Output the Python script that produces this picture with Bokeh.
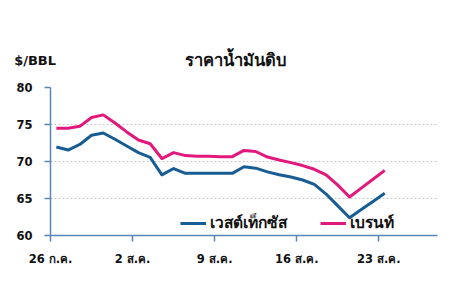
import numpy as np
from bokeh.plotting import figure
from bokeh.models import Range1d, FixedTicker, Label, Legend, LegendItem
from bokeh.embed import file_html
from bokeh.resources import INLINE

# Data (daily, days counted from 26 Jul)
tick_days = [0, 7, 14, 21, 28]
tick_labels = ["26 ก.ค.", "2 ส.ค.", "9 ส.ค.", "16 ส.ค.", "23 ส.ค."]

wti = [71.95, 71.55, 72.3, 73.55, 73.85, 73.0, 72.1, 71.2, 70.55, 68.2,
       69.05, 68.4, 68.4, 68.4, 68.4, 68.4, 69.3, 69.1, 68.6, 68.2,
       67.9, 67.5, 66.9, 65.6, 64.0, 62.4, 63.5, 64.6, 65.7]
brent = [74.5, 74.5, 74.75, 75.95, 76.3, 75.2, 74.0, 72.9, 72.4, 70.4,
         71.2, 70.8, 70.7, 70.7, 70.65, 70.65, 71.5, 71.35, 70.6, 70.2,
         69.85, 69.45, 68.95, 68.2, 66.8, 65.2, 66.4, 67.6, 68.8]
days = np.arange(len(wti)) + 0.5

series_names = ["เวสต์เท็กซัส", "เบรนท์"]
title_text = "ราคาน้ำมันดิบ"
unit_text = "$/BBL"

FONT = "'DejaVu Sans', sans-serif"
AXIS_COLOR = "#5a86b5"
BLUE = "#175d94"
PINK = "#e2187c"

p = figure(width=453, height=294, output_backend="svg", toolbar_location=None,
           x_range=Range1d(0, 33), y_range=Range1d(60, 80),
           min_border_left=50, min_border_right=16, min_border_top=87,
           min_border_bottom=59)
p.outline_line_color = None
p.background_fill_color = "white"
p.border_fill_color = "white"

# axes
for ax in (p.xaxis[0], p.yaxis[0]):
    ax.axis_line_color = AXIS_COLOR
    ax.axis_line_width = 1.5
    ax.major_tick_line_color = AXIS_COLOR
    ax.major_tick_line_width = 1.5
    ax.major_tick_out = 6
    ax.major_tick_in = 0
    ax.minor_tick_line_color = None
    ax.major_label_text_font = FONT
    ax.major_label_text_font_style = "bold"
    ax.major_label_text_font_size = "11.5px"
    ax.major_label_text_color = "#111111"

p.yaxis.ticker = FixedTicker(ticks=[60, 65, 70, 75, 80])
p.yaxis.major_label_standoff = 12
p.xaxis.ticker = FixedTicker(ticks=tick_days)
p.xaxis.major_label_overrides = {d: l for d, l in zip(tick_days, tick_labels)}
p.xaxis.major_label_standoff = 10

p.xgrid.grid_line_color = None
p.ygrid.grid_line_color = "#c8c8c8"
p.ygrid.grid_line_dash = "2 2"
p.ygrid.grid_line_width = 1

r_wti = p.line(days, wti, line_color=BLUE, line_width=3, line_join="round")
r_brent = p.line(days, brent, line_color=PINK, line_width=3, line_join="round")

legend = Legend(items=[LegendItem(label=series_names[0], renderers=[r_wti]),
                       LegendItem(label=series_names[1], renderers=[r_brent])],
                orientation="horizontal", location=(130, 0),
                border_line_color=None, background_fill_alpha=0,
                padding=0, margin=0, spacing=33, glyph_width=26,
                label_standoff=4,
                label_text_font=FONT, label_text_font_style="bold",
                label_text_font_size="15.5px", label_text_color="#111111")
p.add_layout(legend, "center")

p.add_layout(Label(x=-3.1, y=83.6, text=unit_text, text_font=FONT,
                   text_font_style="bold", text_font_size="13px",
                   text_baseline="middle", text_align="left",
                   text_color="#111111"), "above")
p.add_layout(Label(x=15.8, y=83.6, text=title_text, text_font=FONT,
                   text_font_style="bold", text_font_size="16.5px",
                   text_baseline="middle", text_align="center",
                   text_color="#111111"), "above")

open("out.html", "w").write(file_html(p, INLINE))
